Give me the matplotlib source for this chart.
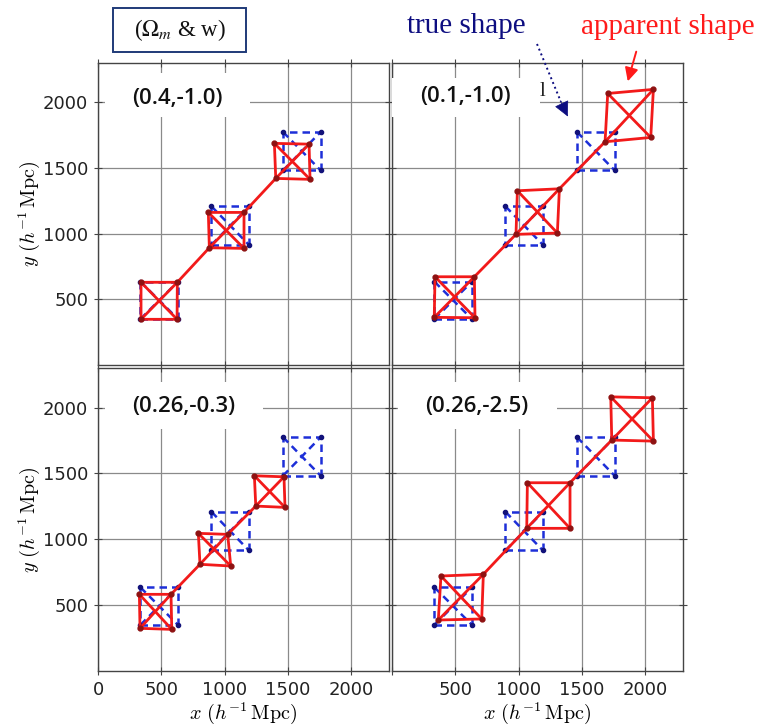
import matplotlib
matplotlib.use('Agg')
import matplotlib.pyplot as plt
from matplotlib.patches import Rectangle, FancyArrowPatch
from matplotlib.lines import Line2D

# ---------------- data ----------------
panel_labels = ['(0.4,-1.0)', '(0.1,-1.0)', '(0.26,-0.3)', '(0.26,-2.5)']
xticks = [0, 500, 1000, 1500, 2000]
yticks = [500, 1000, 1500, 2000]

# true shape squares, corners ordered BL, BR, TR, TL
true_x = [[335, 632, 632, 335], [897, 1193, 1193, 897], [1462, 1760, 1760, 1462]]
true_y = [[350, 350, 635, 635], [915, 915, 1208, 1208], [1482, 1482, 1775, 1775]]

# apparent shapes (BL, BR, TR, TL) for each (Omega_m, w)
app_x_a = [[340, 625, 627, 340], [880, 1154, 1154, 872], [1405, 1676, 1668, 1394]]
app_y_a = [[348, 348, 630, 630], [893, 888, 1162, 1162], [1421, 1414, 1682, 1688]]

app_x_b = [[334, 656, 651, 340], [980, 1307, 1323, 991], [1684, 2045, 2066, 1705]]
app_y_b = [[363, 360, 672, 672], [995, 1005, 1342, 1327], [1700, 1733, 2099, 2068]]

app_x_c = [[332, 583, 577, 327], [806, 1049, 1025, 793], [1247, 1478, 1470, 1236]]
app_y_c = [[324, 316, 582, 582], [810, 797, 1037, 1045], [1252, 1242, 1474, 1482]]

app_x_d = [[366, 709, 722, 387], [1065, 1407, 1407, 1070], [1737, 2066, 2058, 1729]]
app_y_d = [[387, 395, 734, 721], [1083, 1083, 1429, 1429], [1753, 1745, 2074, 2081]]

apparent_x = [app_x_a, app_x_b, app_x_c, app_x_d]
apparent_y = [app_y_a, app_y_b, app_y_c, app_y_d]

# ---------------- style ----------------
RED = '#f21a1a'
RED_DOT = '#8e1212'
BLUE = '#1d2fd8'
BLUE_DOT = '#12127a'
NAVY = '#0d0d80'

fig = plt.figure(figsize=(7.62, 7.28), dpi=100)
W, H = 762.0, 728.0

def axpos(left_px, bottom_px, w_px, h_px):
    return [left_px / W, 1 - bottom_px / H, w_px / W, h_px / H]

positions = [axpos(98, 365, 291, 302), axpos(392, 365, 291, 302),
             axpos(98, 671, 291, 303), axpos(392, 671, 291, 303)]

label_pos = [(0.273, 0.884), (0.254, 0.89), (0.295, 0.872), (0.292, 0.872)]
box_pos = [(0.024, 0.821, 0.498, 0.146), (0.0, 0.821, 0.509, 0.129),
           (0.024, 0.798, 0.543, 0.156), (0.021, 0.798, 0.546, 0.156)]

mathlabel = r'$x\ (h^{-1}\,\mathrm{Mpc})$'
ymathlabel = r'$y\ (h^{-1}\,\mathrm{Mpc})$'
LW = 2.0

for i in range(4):
    ax = fig.add_axes(positions[i])
    ax.set_xlim(0, 2300)
    ax.set_ylim(0, 2300)
    ax.set_xticks(xticks)
    ax.set_yticks(yticks)
    ax.set_axisbelow(True)
    ax.grid(True, color='#8a8a8a', lw=0.9)
    for s in ax.spines.values():
        s.set_color('#444444')
        s.set_linewidth(1.0)
    ax.tick_params(direction='inout', length=6, width=0.8, color='#444444',
                   labelsize=13, labelcolor='#222222', top=True, right=True, pad=4)

    row, col = divmod(i, 2)
    if row == 0:
        ax.set_xticklabels([])
    else:
        if col == 1:
            ax.set_xticklabels([''] + [str(t) for t in xticks[1:]])
        ax.set_xlabel(mathlabel, fontsize=14.5, labelpad=1, math_fontfamily='cm')
    if col == 1:
        ax.set_yticklabels([])
    else:
        ax.set_ylabel(ymathlabel, fontsize=14.5, labelpad=1, math_fontfamily='cm')

    # true shapes (blue dashed)
    for sx, sy in zip(true_x, true_y):
        ax.plot(sx + [sx[0]], sy + [sy[0]], color=BLUE, lw=1.8, ls=(0, (3, 2)), zorder=2)
        ax.plot([sx[0], sx[2]], [sy[0], sy[2]], color=BLUE, lw=1.8, ls=(0, (3, 2)), zorder=2)
        ax.plot([sx[3], sx[1]], [sy[3], sy[1]], color=BLUE, lw=1.8, ls=(0, (3, 2)), zorder=2)
        ax.plot(sx, sy, 'o', color=BLUE_DOT, ms=3, zorder=2.5)

    # apparent shapes (red solid)
    chain_x, chain_y = [], []
    for sx, sy in zip(apparent_x[i], apparent_y[i]):
        ax.plot(sx + [sx[0]], sy + [sy[0]], color=RED, lw=LW, zorder=3,
                solid_joinstyle='round')
        ax.plot([sx[3], sx[1]], [sy[3], sy[1]], color=RED, lw=LW, zorder=3)
        chain_x += [sx[0], sx[2]]
        chain_y += [sy[0], sy[2]]
    ax.plot(chain_x, chain_y, color=RED, lw=LW, zorder=3)
    for sx, sy in zip(apparent_x[i], apparent_y[i]):
        ax.plot(sx, sy, 'o', color=RED_DOT, ms=3.5, zorder=3.5)

    bx, by, bw, bh = box_pos[i]
    ax.add_patch(Rectangle((bx, by), bw, bh, transform=ax.transAxes,
                           fc='white', ec='none', zorder=4, clip_on=False))
    lx, ly = label_pos[i]
    ax.text(lx, ly, panel_labels[i], transform=ax.transAxes, ha='center', va='center',
            fontsize=16, family=['Open Sans', 'DejaVu Sans'], fontweight='semibold',
            color='#111111', zorder=5)

# header annotations
fig.patches.append(Rectangle((113 / W, 1 - 52 / H), 133 / W, 44 / H, transform=fig.transFigure,
                             fc='white', ec='#1f3a78', lw=1.4))
fig.text(179.5 / W, 1 - 30 / H, r'($\Omega_m$ & w)', ha='center', va='center',
         fontsize=16.5, family='Liberation Serif', math_fontfamily='stix', color='#111111')
fig.text(466 / W, 1 - 26 / H, 'true shape', ha='center', va='center',
         fontsize=21, family='Liberation Serif', color=NAVY)
fig.text(668 / W, 1 - 27 / H, 'apparent shape', ha='center', va='center',
         fontsize=21, family='Liberation Serif', color='#ff1a1a')
fig.text(543 / W, 1 - 92 / H, 'l', ha='center', va='center',
         fontsize=15, family='Liberation Serif', color='#222222')

# dotted navy pointer with a solid head
fig.add_artist(Line2D([537 / W, 561 / W], [1 - 44 / H, 1 - 102 / H], transform=fig.transFigure,
                      color=NAVY, lw=1.4, ls=':'))
fig.add_artist(FancyArrowPatch((559 / W, 1 - 98 / H), (569 / W, 1 - 119 / H),
                               transform=fig.transFigure, arrowstyle='-|>',
                               mutation_scale=24, color=NAVY, lw=0.5))
fig.add_artist(FancyArrowPatch((637 / W, 1 - 49 / H), (627 / W, 1 - 84 / H),
                               transform=fig.transFigure, arrowstyle='-|>',
                               mutation_scale=20, color='#ff1a1a', lw=1.4))

fig.savefig('out.png', dpi=100)
